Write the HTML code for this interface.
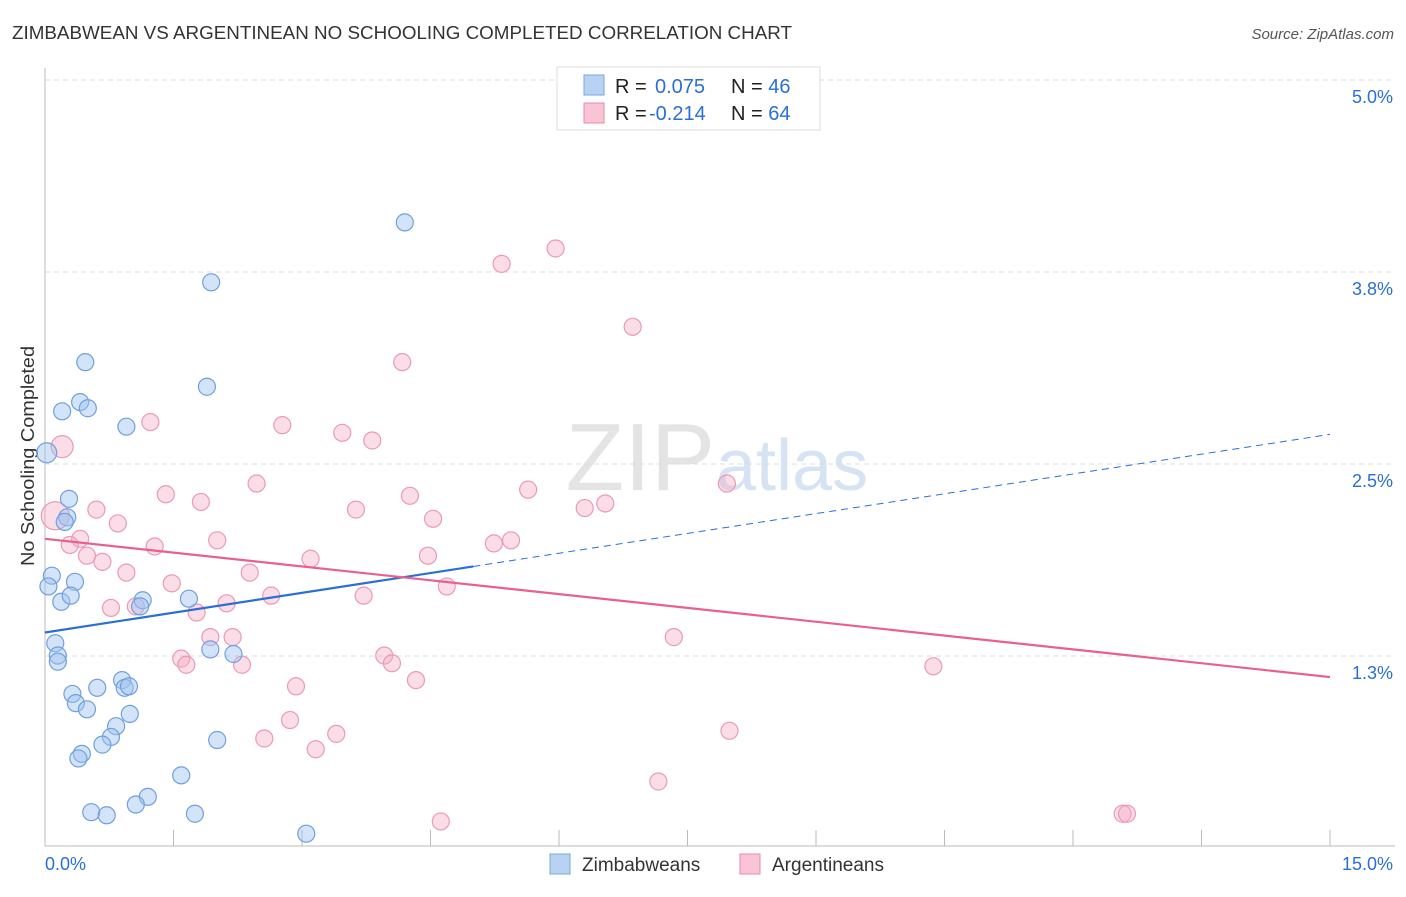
<!DOCTYPE html>
<html><head><meta charset="utf-8"><style>
body{margin:0;background:#fff;font-family:"Liberation Sans",sans-serif;}
svg text{font-family:"Liberation Sans",sans-serif;}
</style></head><body>
<svg id="c" width="1406" height="892" xmlns="http://www.w3.org/2000/svg">
<text x="12" y="39" font-size="18" fill="#333" textLength="780" lengthAdjust="spacingAndGlyphs">ZIMBABWEAN VS ARGENTINEAN NO SCHOOLING COMPLETED CORRELATION CHART</text>
<text x="1394" y="39" font-size="15" fill="#555" font-style="italic" text-anchor="end">Source: ZipAtlas.com</text>
<text x="715" y="490" font-size="96" fill="#e4e4e4" text-anchor="end" font-family="Liberation Serif">ZIP</text>
<text x="716" y="490" font-size="72" fill="#d6e3f3">atlas</text>
<text transform="translate(34,456) rotate(-90)" font-size="18" fill="#333" text-anchor="middle" textLength="220" lengthAdjust="spacingAndGlyphs">No Schooling Completed</text>
<g id="grid"></g><g id="pts"></g><g id="lines"></g>
<g>
<rect x="557" y="67" width="263" height="63" fill="#fff" stroke="#ddd"/>
<rect x="584" y="75" width="20" height="20" fill="#b8d2f4" stroke="#7aa6e0"/>
<rect x="584" y="103" width="20" height="20" fill="#f9c4d4" stroke="#e98aa8"/>
<text x="615" y="93" font-size="20" fill="#222">R = <tspan fill="#2a6fd6" x="655">0.075</tspan><tspan x="731" fill="#222">N = </tspan><tspan fill="#2a6fd6">46</tspan></text>
<text x="615" y="120" font-size="20" fill="#222">R = <tspan fill="#2a6fd6" x="649">-0.214</tspan><tspan x="731" fill="#222">N = </tspan><tspan fill="#2a6fd6">64</tspan></text>
</g>
<g>
<rect x="550" y="854" width="20" height="20" fill="#b8d2f4" stroke="#7aa6e0"/>
<text x="582" y="871" font-size="19" fill="#333">Zimbabweans</text>
<rect x="740" y="854" width="20" height="20" fill="#f9c4d4" stroke="#e98aa8"/>
<text x="772" y="871" font-size="19" fill="#333">Argentineans</text>
</g>
</svg>
<script>
const yTicks=[5.0,3.75,2.5,1.25];
const yTickLabels=["5.0%","3.8%","2.5%","1.3%"];
const xTicks=[0,1.5,3,4.5,6,7.5,9,10.5,12,13.5,15];
const blueX=[4.2,1.94,0.47,1.89,0.2,0.41,0.5,0.95,0.02,0.28,0.26,0.23,0.08,0.04,0.35,0.19,0.3,1.14,1.11,1.68,0.12,0.15,0.15,1.93,2.2,0.32,0.61,0.9,0.93,0.98,0.36,0.49,0.99,0.83,0.77,0.67,0.43,0.39,2.01,1.59,1.2,1.06,0.54,0.72,1.75,3.05];
const blueY=[4.06,3.67,3.15,2.99,2.83,2.89,2.85,2.73,2.56,2.26,2.14,2.11,1.76,1.69,1.72,1.59,1.63,1.6,1.56,1.61,1.32,1.24,1.2,1.28,1.25,0.99,1.03,1.08,1.03,1.04,0.93,0.89,0.86,0.78,0.71,0.66,0.6,0.57,0.69,0.46,0.32,0.27,0.22,0.2,0.21,0.08];
const pinkX=[5.96,5.33,6.86,4.17,1.23,2.77,3.47,3.82,0.2,2.47,1.41,1.82,4.26,5.64,7.96,0.6,0.85,3.63,4.53,6.3,6.54,0.12,0.41,0.29,1.28,2.01,5.24,5.44,0.49,0.67,3.1,4.47,0.95,2.39,1.48,4.69,3.72,2.64,0.77,1.06,1.77,2.12,1.93,2.19,1.59,1.65,2.3,3.96,4.05,7.34,10.37,4.33,2.93,2.86,3.4,2.56,3.16,7.99,7.16,4.62,12.58,12.63];
const pinkY=[3.89,3.79,3.38,3.15,2.76,2.74,2.69,2.64,2.6,2.36,2.29,2.24,2.28,2.32,2.36,2.19,2.1,2.19,2.13,2.2,2.23,2.15,2.0,1.96,1.95,1.99,1.97,1.99,1.89,1.85,1.87,1.89,1.78,1.78,1.71,1.69,1.63,1.63,1.55,1.56,1.52,1.58,1.36,1.36,1.22,1.18,1.18,1.24,1.19,1.36,1.17,1.08,1.04,0.82,0.73,0.7,0.63,0.75,0.42,0.16,0.21,0.21];
const blueTrend=[0,1.39,5.0,1.82,15,2.68];
const pinkTrend=[0,2.0,15,1.1];
const X=v=>45+v*(1285/15), Y=v=>846-v*153.6;
const NS="http://www.w3.org/2000/svg";
function mk(t,a,p){const e=document.createElementNS(NS,t);for(const k in a)e.setAttribute(k,a[k]);p.appendChild(e);return e;}
const g=document.getElementById('grid');
mk('line',{x1:45,y1:68,x2:45,y2:846,stroke:'#bbb'},g);
mk('line',{x1:45,y1:846,x2:1395,y2:846,stroke:'#bbb'},g);
yTicks.forEach((v,i)=>{
 const l=mk('line',{x1:45,y1:Y(v)+2,x2:1395,y2:Y(v)+2,stroke:'#ddd','stroke-dasharray':'5,4'},g);
 
 
 const t=mk('text',{x:1393,y:Y(v)+25,'font-size':18,fill:'#2a6fd6','text-anchor':'end'},g);t.textContent=yTickLabels[i];
 
 
});
xTicks.forEach(v=>{
 const l=mk('line',{x1:X(v),y1:830,x2:X(v),y2:846,stroke:'#bbb'},g);
 
 
});
let t=mk('text',{x:45,y:870,'font-size':18,fill:'#2a6fd6'},g);t.textContent='0.0%';


t=mk('text',{x:1393,y:870,'font-size':18,fill:'#2a6fd6','text-anchor':'end'},g);t.textContent='15.0%';


const p=document.getElementById('pts');
const bigPink={8:11,21:14}, bigBlue={8:10};
pinkX.forEach((x,i)=>{const c=mk('circle',{cx:X(x),cy:Y(pinkY[i]),r:bigPink[i]||8.5,fill:'rgba(245,170,195,0.4)',stroke:'#eb9ab4','stroke-width':1.2},p);
 
 });
blueX.forEach((x,i)=>{const c=mk('circle',{cx:X(x),cy:Y(blueY[i]),r:bigBlue[i]||8.5,fill:'rgba(160,195,240,0.45)',stroke:'#6f9fe0','stroke-width':1.2},p);
 
 });
const L=document.getElementById('lines');
let a=mk('line',{x1:X(blueTrend[0]),y1:Y(blueTrend[1]),x2:X(blueTrend[2]),y2:Y(blueTrend[3]),stroke:'#2a6fd6','stroke-width':2.2},L);


a=mk('line',{x1:X(blueTrend[2]),y1:Y(blueTrend[3]),x2:X(blueTrend[4]),y2:Y(blueTrend[5]),stroke:'#2a6fd6','stroke-width':1,'stroke-dasharray':'7,5'},L);


a=mk('line',{x1:X(pinkTrend[0]),y1:Y(pinkTrend[1]),x2:X(pinkTrend[2]),y2:Y(pinkTrend[3]),stroke:'#e8608e','stroke-width':2.2},L);


</script>
</body></html>
